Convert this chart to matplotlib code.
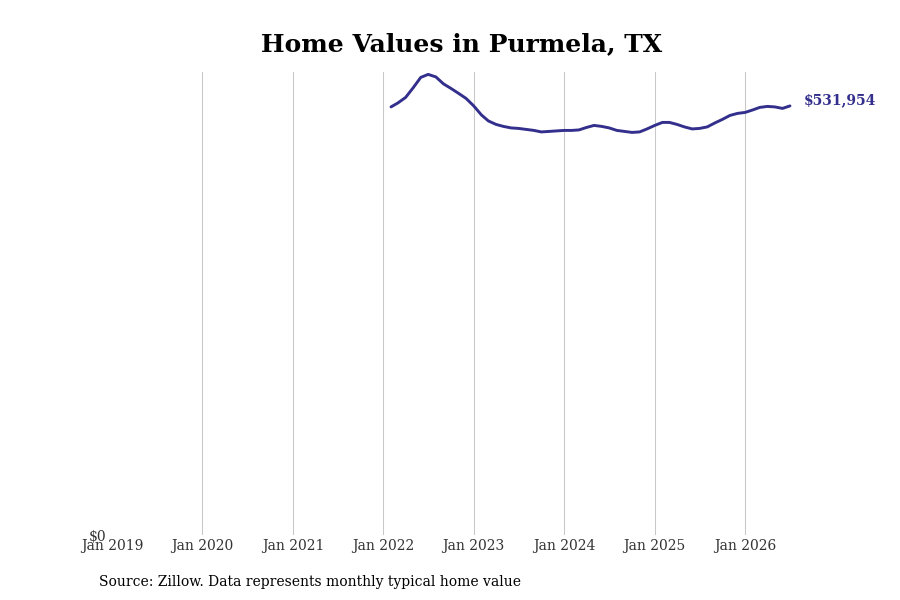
import matplotlib
matplotlib.use("Agg")
import matplotlib.pyplot as plt
import pandas as pd

plt.rcParams['font.family'] = ['DejaVu Serif']

start_month = "2022-02-01"
values = [530720, 535680, 542500, 554280, 567300, 571020, 567920, 559240, 553660, 547460,
          541260, 531960, 520800, 513360, 509020, 506540, 504680, 504060, 502820, 501580,
          499720, 500340, 500960, 501580, 501580, 502200, 505300, 507780, 506540, 504680,
          501580, 500340, 499100, 499720, 503440, 507780, 511500, 511500, 509020, 505920,
          503440, 504060, 505920, 510880, 515220, 520180, 522660, 523900, 527000, 530100,
          531340, 530720, 528860, 531954]
dates = pd.date_range(start_month, periods=len(values), freq="MS")
tick_years = list(range(2019, 2027))
tick_labels = [f"Jan {y}" for y in tick_years]
last_label = "$531,954"
title = "Home Values in Purmela, TX"
source = "Source: Zillow. Data represents monthly typical home value"

line_color = "#332f8c"

fig = plt.figure(figsize=(9, 6), dpi=100)
ax = fig.add_axes([0.1244, 0.1083, 0.9 - 0.1244, 0.88 - 0.1083])

ax.plot(dates, values, color=line_color, lw=2.1, solid_capstyle="round")

ax.set_xlim(pd.Timestamp("2019-01-01"), pd.Timestamp("2026-09-20"))
ax.set_ylim(0, 574000)

ticks = [pd.Timestamp(f"{y}-01-01") for y in tick_years]
ax.set_xticks(ticks)
ax.set_xticklabels(tick_labels, fontsize=10, color="#333333")
for t in ticks[1:]:
    ax.axvline(t, color="#c8c8c8", lw=0.75, zorder=0)

ax.set_yticks([0])
ax.set_yticklabels(["$0"], fontsize=10, color="#333333")
ax.tick_params(axis="both", length=0)
ax.tick_params(axis="x", pad=3)
ax.tick_params(axis="y", pad=4)
for s in ax.spines.values():
    s.set_visible(False)

ax.annotate(last_label, xy=(dates[-1], values[-1]), xytext=(10, 4),
            textcoords="offset points", fontsize=10, fontweight="bold",
            color=line_color, va="center", ha="left")

fig.text(0.5125, 0.926, title, ha="center", va="center", fontsize=18, fontweight="bold")
fig.text(0.11, 0.03, source, ha="left", va="center", fontsize=10, color="black")

fig.savefig("out.png", dpi=100)
